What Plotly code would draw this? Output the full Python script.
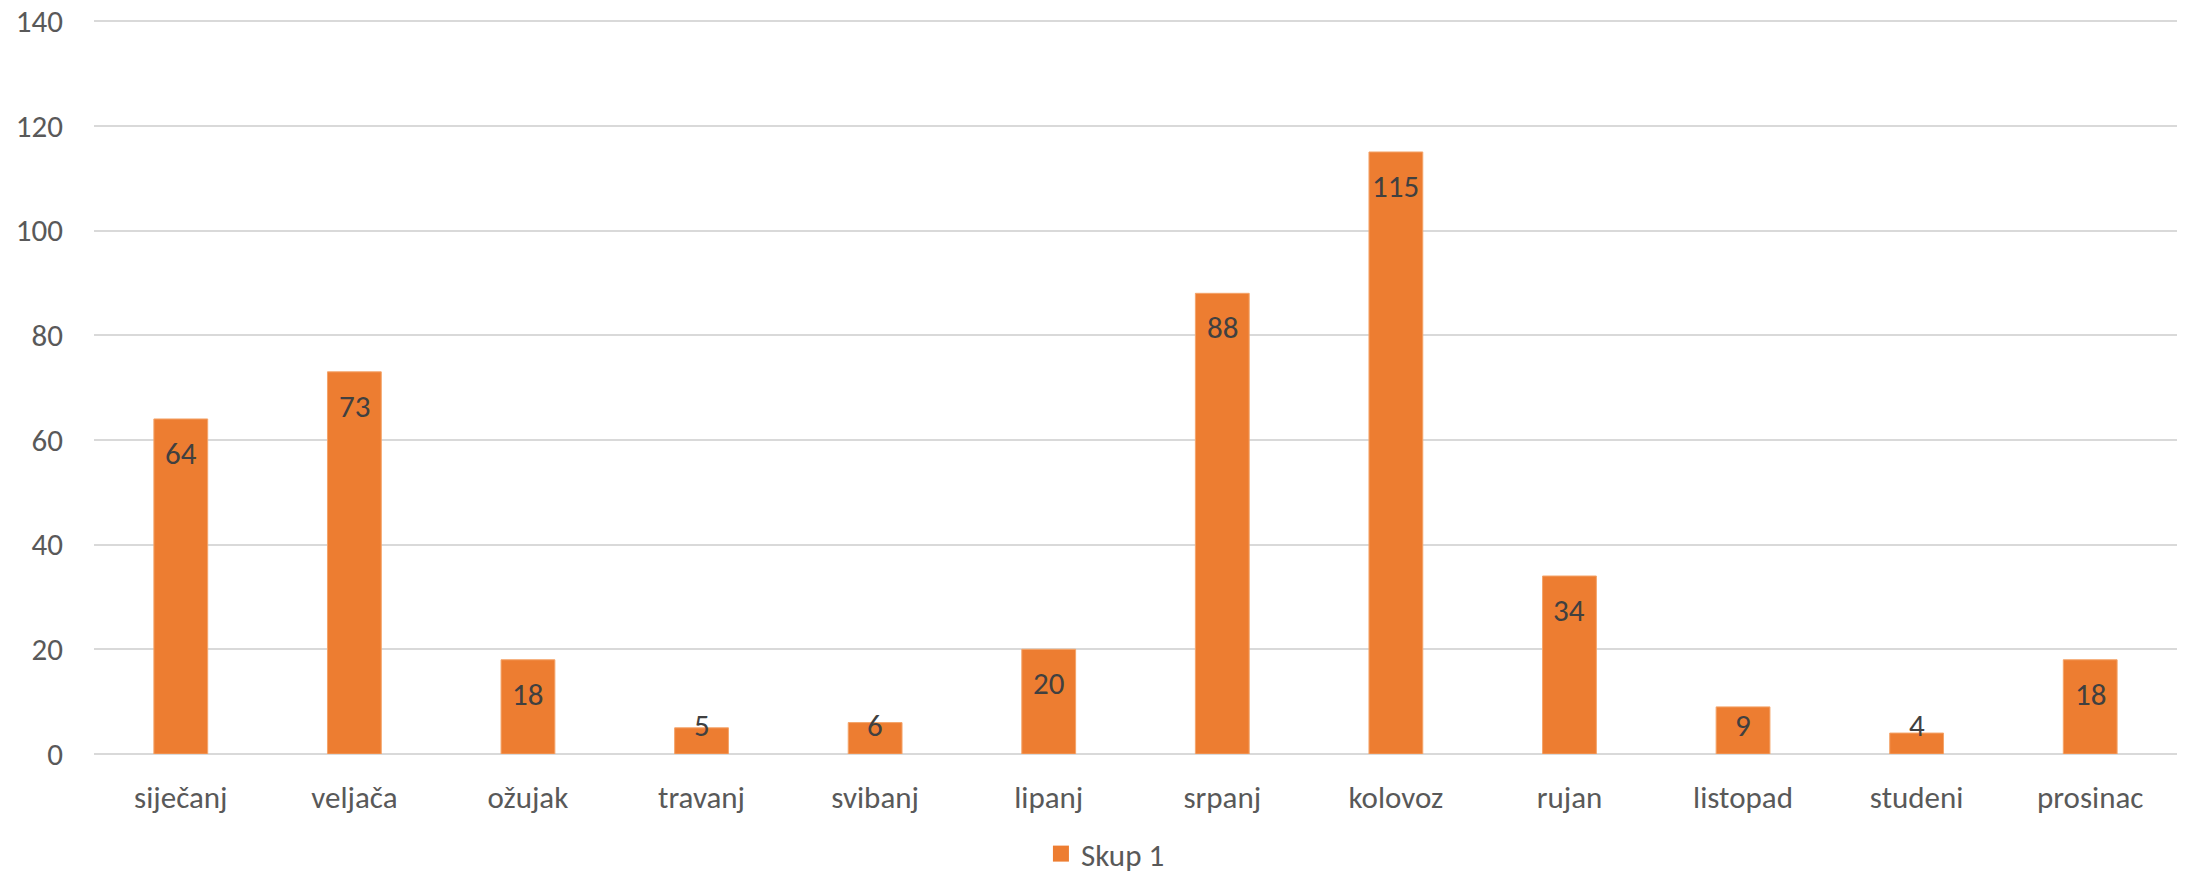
import plotly.graph_objects as go

months = ["siječanj", "veljača", "ožujak", "travanj", "svibanj", "lipanj",
          "srpanj", "kolovoz", "rujan", "listopad", "studeni", "prosinac"]
values = [64, 73, 18, 5, 6, 20, 88, 115, 34, 9, 4, 18]
series_name = "Skup 1"
y_ticks = [0, 20, 40, 60, 80, 100, 120, 140]

FONT = "Carlito, Lato, sans-serif"
ORANGE = "#ED7D31"
FS = 31

fig = go.Figure()
fig.add_trace(go.Bar(
    x=months, y=values, name=series_name, width=0.31,
    marker=dict(color=ORANGE, line=dict(color="#F4A46A", width=1)),
    showlegend=False, hoverinfo="x+y",
))
# legend entry with a larger square marker
fig.add_trace(go.Scatter(
    x=[months[0]], y=[None], mode="markers", name=series_name,
    marker=dict(symbol="square", size=20, color=ORANGE), showlegend=True,
))

# data labels (inside end; small bars keep label just above axis)
px_per_unit = 735 / 140.4
for m, v in zip(months, values):
    if v * px_per_unit >= 63:
        fig.add_annotation(x=m, y=v, yshift=-34, text=str(v), showarrow=False,
                           yanchor="middle", font=dict(family=FONT, size=FS, color="#404040"))
    else:
        fig.add_annotation(x=m, y=0, yshift=29, text=str(v), showarrow=False,
                           yanchor="middle", font=dict(family=FONT, size=FS, color="#404040"))

# page body has an 8px margin, so the figure is 8px smaller on each leading side
fig.update_layout(
    width=2180, height=866,
    margin=dict(l=86, r=11, t=11, b=120, autoexpand=False),
    plot_bgcolor="white", paper_bgcolor="white",
    font=dict(family=FONT, size=FS, color="#595959"),
    bargap=0.69,
    legend=dict(orientation="h", x=0.4546, xanchor="left", y=-0.136, yanchor="middle",
                font=dict(family=FONT, size=FS, color="#595959"),
                itemsizing="trace"),
    xaxis=dict(type="category", range=[-0.5, 11.5], showgrid=False, showline=False,
               zeroline=False, ticks="", ticklabelstandoff=22, automargin=False,
               tickfont=dict(family=FONT, size=FS, color="#595959")),
    yaxis=dict(range=[0, 140.4], tickvals=y_ticks, showgrid=True, gridcolor="#D9D9D9",
               gridwidth=2, zeroline=True, zerolinecolor="#D9D9D9", zerolinewidth=2,
               showline=False, ticks="", ticklabelstandoff=30, automargin=False,
               ticklabeloverflow="allow",
               tickfont=dict(family=FONT, size=FS, color="#595959")),
)

fig.write_html("out.html")
